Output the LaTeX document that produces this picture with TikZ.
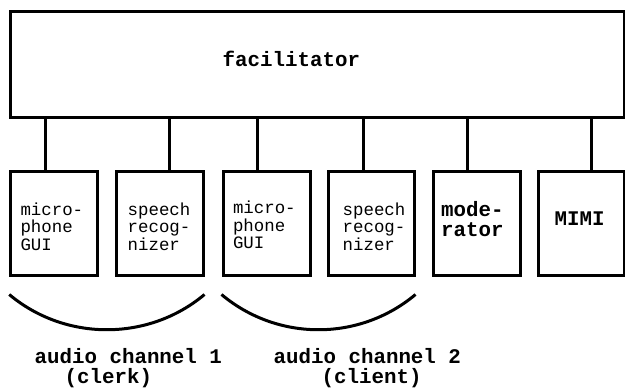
\documentclass[tikz,border=0pt]{standalone}
\usepackage{fontspec}
\usepackage{tikz}
\usetikzlibrary{positioning}
\newfontfamily\cour{Liberation Mono}

\begin{document}
\begin{tikzpicture}[x=1pt, y=1pt,
    unit/.style={draw, rectangle, line width=3pt, minimum width=87pt, minimum height=104pt, inner sep=0pt},
    plain/.style={font=\cour\fontsize{17.4}{17.5}\selectfont, align=left, anchor=base west, inner sep=0pt},
    heavy/.style={font=\cour\bfseries\fontsize{20.8}{20}\selectfont, align=left, anchor=base west, inner sep=0pt},
    link/.style={line width=3pt}]
    \useasboundingbox (0,0) rectangle (625,388);

    \node[draw, rectangle, line width=3pt, minimum width=613.5pt, minimum height=105.5pt, inner sep=0pt] (fac) at (317.25,323.25) {};
    \node[heavy, anchor=base] (facl) at (291.4,321.3) {facilitator};

    \node[unit] (b1) at (54.25,164) {};
    \node[unit] (b2) at (159.5,164) {};
    \node[unit] (b3) at (266.5,164) {};
    \node[unit, minimum width=86pt] (b4) at (371,164) {};
    \node[unit] (b5) at (476.5,164) {};
    \node[unit, minimum width=86pt] (b6) at (581,164) {};

    \node[plain] (t1) at (20.3,137.5) {micro-\\phone\\GUI};
    \node[plain] (t2) at (127.5,137.5) {speech\\recog-\\nizer};
    \node[plain] (t3) at (232.8,139.3) {micro-\\phone\\GUI};
    \node[plain] (t4) at (342.5,137.5) {speech\\recog-\\nizer};
    \node[heavy] (t5) at (441,151.6) {mode-\\rator};
    \node[heavy] (t6) at (554.5,162) {MIMI};

    \draw[link] ([xshift=-8.5pt]b1.north) -- ([xshift=-8.5pt]b1.north |- fac.south);
    \draw[link] ([xshift=9.8pt]b2.north) -- ([xshift=9.8pt]b2.north |- fac.south);
    \draw[link] ([xshift=-9.2pt]b3.north) -- ([xshift=-9.2pt]b3.north |- fac.south);
    \draw[link] ([xshift=-7.7pt]b4.north) -- ([xshift=-7.7pt]b4.north |- fac.south);
    \draw[link] ([xshift=-8.8pt]b5.north) -- ([xshift=-8.8pt]b5.north |- fac.south);
    \draw[link] ([xshift=10.7pt]b6.north) -- ([xshift=10.7pt]b6.north |- fac.south);

    \draw[link] ([yshift=-17pt]b1.south west) .. controls +(56,-47) and +(-56,-47) .. ([yshift=-17pt]b2.south east);
    \draw[link] ([yshift=-17pt]b3.south west) .. controls +(56,-47) and +(-56,-47) .. ([yshift=-17pt]b4.south east);

    \node[heavy] (ch1) at (34.5,24) {audio channel 1};
    \node[heavy] (cl1) at (64.5,4.5) {(clerk)};
    \node[heavy] (ch2) at (273.5,24) {audio channel 2};
    \node[heavy] (cl2) at (321.5,4.5) {(client)};
\end{tikzpicture}
\end{document}
